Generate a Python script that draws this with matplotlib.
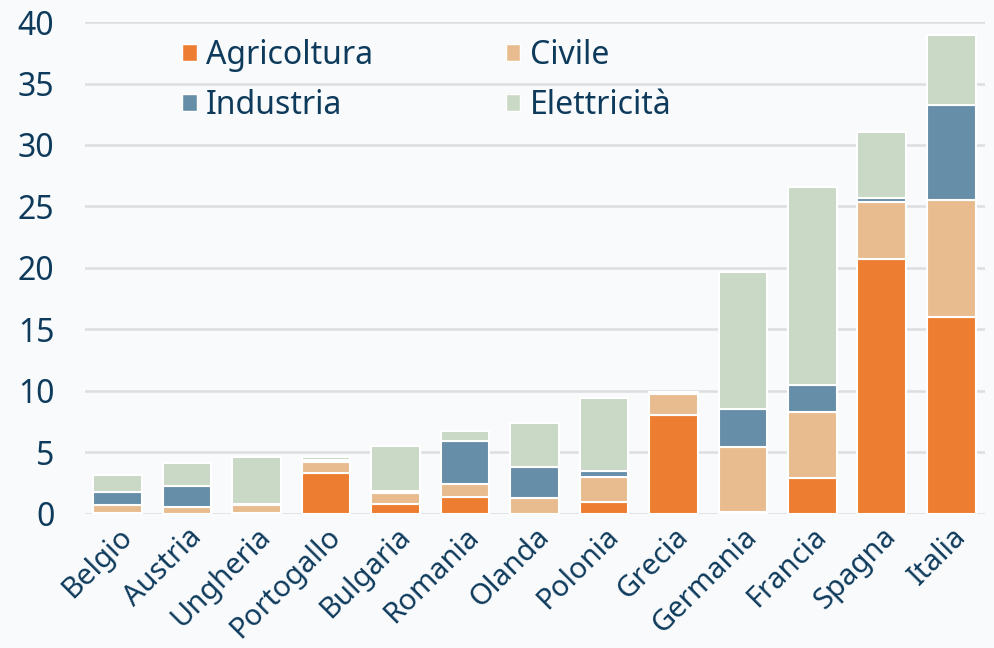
import matplotlib.pyplot as plt
import numpy as np
from matplotlib.patches import Patch

PAESI = ["Belgio", "Austria", "Ungheria", "Portogallo", "Bulgaria", "Romania",
         "Olanda", "Polonia", "Grecia", "Germania", "Francia", "Spagna", "Italia"]
AGRICOLTURA = [0.1, 0.0, 0.1, 3.35, 0.8, 1.4, 0.0, 1.0, 8.05, 0.15, 2.9, 20.7, 16.05]
CIVILE = [0.65, 0.55, 0.65, 0.85, 0.9, 1.05, 1.3, 2.0, 1.7, 5.25, 5.35, 4.7, 9.45]
INDUSTRIA = [1.05, 1.75, 0.05, 0.15, 0.15, 3.5, 2.5, 0.5, 0.05, 3.15, 2.25, 0.3, 7.75]
ELETTRICITA = [1.35, 1.8, 3.85, 0.3, 3.7, 0.75, 3.6, 5.95, 0.1, 11.15, 16.1, 5.35, 5.7]

SERIES = [
    ("Agricoltura", AGRICOLTURA, "#ED7D31"),
    ("Industria", INDUSTRIA, "#678EA8"),
    ("Civile", CIVILE, "#E9BC8F"),
    ("Elettricità", ELETTRICITA, "#C9D9C6"),
]
STACK_ORDER = ["Agricoltura", "Civile", "Industria", "Elettricità"]

TEXT = "#0E3A5B"
BG = "#F8FAFC"

plt.rcParams["font.family"] = ["Noto Sans", "DejaVu Sans"]

fig = plt.figure(figsize=(9.94, 6.48), dpi=100, facecolor=BG)
ax = fig.add_axes([0.0855, 0.207, 0.905, 0.759])
ax.set_facecolor(BG)

lookup = {name: (vals, col) for name, vals, col in SERIES}
x = np.arange(len(PAESI))
bottom = np.zeros(len(PAESI))
for name in STACK_ORDER:
    vals, col = lookup[name]
    ax.bar(x, vals, 0.7, bottom=bottom, color=col, edgecolor="white",
           linewidth=1.5, zorder=3)
    bottom += np.array(vals)

ax.set_ylim(0, 40)
ax.set_xlim(-0.47, 12.48)
ax.set_yticks(range(0, 41, 5))
ax.yaxis.grid(True, color="#DCDDE0", linewidth=1.8, zorder=0)
for s in ax.spines.values():
    s.set_visible(False)
ax.tick_params(length=0, colors=TEXT)
ax.tick_params(axis="y", labelsize=23, pad=22)
ax.set_xticks(x)
ax.set_xticklabels(PAESI, rotation=45, ha="right", rotation_mode="anchor",
                   fontsize=21, color=TEXT)
ax.tick_params(axis="x", pad=6)

handles = [Patch(facecolor=col, edgecolor="white", label=name)
           for name, _, col in SERIES]
leg = ax.legend(handles=handles, ncol=2, loc="upper left",
                bbox_to_anchor=(0.108, 0.965), frameon=False, fontsize=23,
                borderpad=0, borderaxespad=0,
                handlelength=0.45, handleheight=0.45, handletextpad=0.3,
                columnspacing=4.15, labelspacing=0.52)
for t in leg.get_texts():
    t.set_color(TEXT)

fig.savefig("out.png", dpi=100, facecolor=BG)
